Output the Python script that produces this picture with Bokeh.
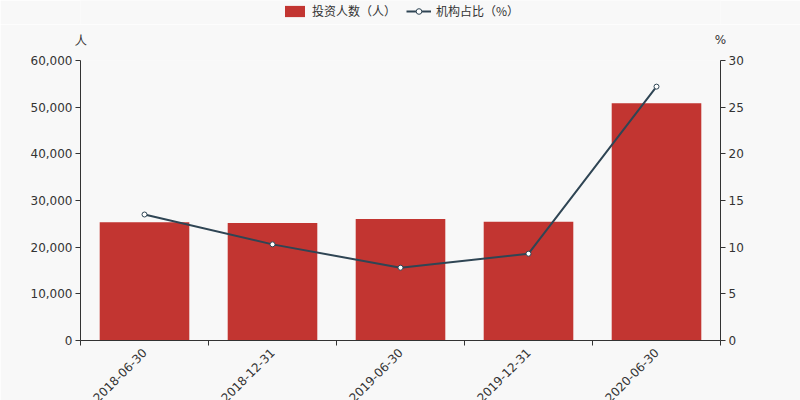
import math
import numpy as np
from bokeh.plotting import figure
from bokeh.layouts import column
from bokeh.models import (Range1d, LinearAxis, FixedTicker, NumeralTickFormatter,
                          ColumnDataSource, Legend, LegendItem)
from bokeh.embed import file_html
from bokeh.resources import INLINE

# ---- data ----
dates = ["2018-06-30", "2018-12-31", "2019-06-30", "2019-12-31", "2020-06-30"]
investors = [25350, 25200, 26050, 25450, 50850]
inst_pct = [13.5, 10.3, 7.8, 9.3, 27.2]
left_ticks = [0, 10000, 20000, 30000, 40000, 50000, 60000]
right_ticks = [0, 5, 10, 15, 20, 25, 30]
left_unit = "人"
right_unit = "%"
series_names = ["投资人数（人）", "机构占比（%）"]

BAR = "#c23531"
LINE = "#2f4554"
BG = "#f8f8f8"
TXT = "#333333"

pos = np.arange(len(dates)) + 0.5
src = ColumnDataSource(dict(x=pos, inv=investors, pct=inst_pct))

# ---------------- legend strip (its view range hides the proxy glyphs) ----------------
lf = figure(width=800, height=24, output_backend="svg", toolbar_location=None,
            x_range=Range1d(100, 101), y_range=Range1d(1e6, 1e6 + 1),
            x_axis_type=None, y_axis_type=None,
            min_border=0, background_fill_color=BG, border_fill_color=BG,
            outline_line_color=None)
lf.grid.visible = False
lb = lf.vbar(x="x", top="inv", width=0.7, source=src, fill_color=BAR, line_color=None)
ll = lf.line(x="x", y="pct", source=src, line_color=LINE, line_width=2)
ls = lf.scatter(x="x", y="pct", source=src, size=9, fill_color="white",
                line_color=LINE, line_width=1)
legend = Legend(items=[LegendItem(label=series_names[0], renderers=[lb]),
                       LegendItem(label=series_names[1], renderers=[ll, ls])],
                orientation="horizontal", location=(202, 5),
                padding=0, margin=0, spacing=10, glyph_width=25, glyph_height=14,
                label_height=14, label_standoff=5, label_text_font="Noto Sans CJK SC",
                label_text_font_size="12px", label_text_color=TXT,
                background_fill_alpha=0, border_line_color=None)
lf.add_layout(legend, "center")

# ---------------- main chart ----------------
p = figure(frame_width=640, frame_height=280, output_backend="svg", toolbar_location=None,
           x_range=Range1d(0, len(dates)), y_range=Range1d(0, 60000),
           min_border_left=80, min_border_right=80, min_border_top=36, min_border_bottom=60,
           background_fill_color=BG, border_fill_color=BG, outline_line_color=None)
p.extra_y_ranges = {"pct": Range1d(0, 30)}
p.grid.visible = False

bars = p.vbar(x="x", top="inv", width=0.7, source=src, fill_color=BAR, line_color=None)
ln = p.line(x="x", y="pct", source=src, y_range_name="pct", line_color=LINE, line_width=2)
pts = p.scatter(x="x", y="pct", source=src, y_range_name="pct", size=5,
                fill_color="white", line_color=LINE, line_width=1)

def style_axis(ax):
    ax.axis_line_color = TXT
    ax.major_tick_line_color = TXT
    ax.minor_tick_line_color = TXT
    ax.major_tick_out = 5
    ax.major_tick_in = 0
    ax.minor_tick_out = 5
    ax.minor_tick_in = 0
    ax.major_label_text_font = "DejaVu Sans"
    ax.major_label_text_font_size = "12px"
    ax.major_label_text_color = TXT
    ax.major_label_standoff = 3

xa = p.xaxis[0]
style_axis(xa)
xa.ticker = FixedTicker(ticks=list(pos), minor_ticks=list(range(len(dates) + 1)))
xa.major_label_overrides = {float(k): d for k, d in zip(pos, dates)}
xa.major_tick_out = 0
xa.major_label_standoff = 5
xa.major_label_orientation = math.pi / 4

ya = p.yaxis[0]
style_axis(ya)
ya.ticker = FixedTicker(ticks=left_ticks)
ya.formatter = NumeralTickFormatter(format="0,0")

ra = LinearAxis(y_range_name="pct")
style_axis(ra)
ra.ticker = FixedTicker(ticks=right_ticks)
p.add_layout(ra, "right")

# unit names above the two value axes
ua = LinearAxis()
style_axis(ua)
ua.axis_line_color = None
ua.major_tick_line_color = None
ua.minor_tick_line_color = None
ua.major_tick_out = 0
ua.minor_tick_out = 0
ua.major_label_standoff = 14
ua.ticker = FixedTicker(ticks=[0, len(dates)], minor_ticks=[])
ua.major_label_overrides = {0: left_unit, len(dates): right_unit}
p.add_layout(ua, "above")

layout = column(lf, p, spacing=0)
html = file_html(layout, INLINE)
html = html.replace("<body>", '<body style="background-color:#f8f8f8;">', 1)
open("out.html", "w").write(html)
